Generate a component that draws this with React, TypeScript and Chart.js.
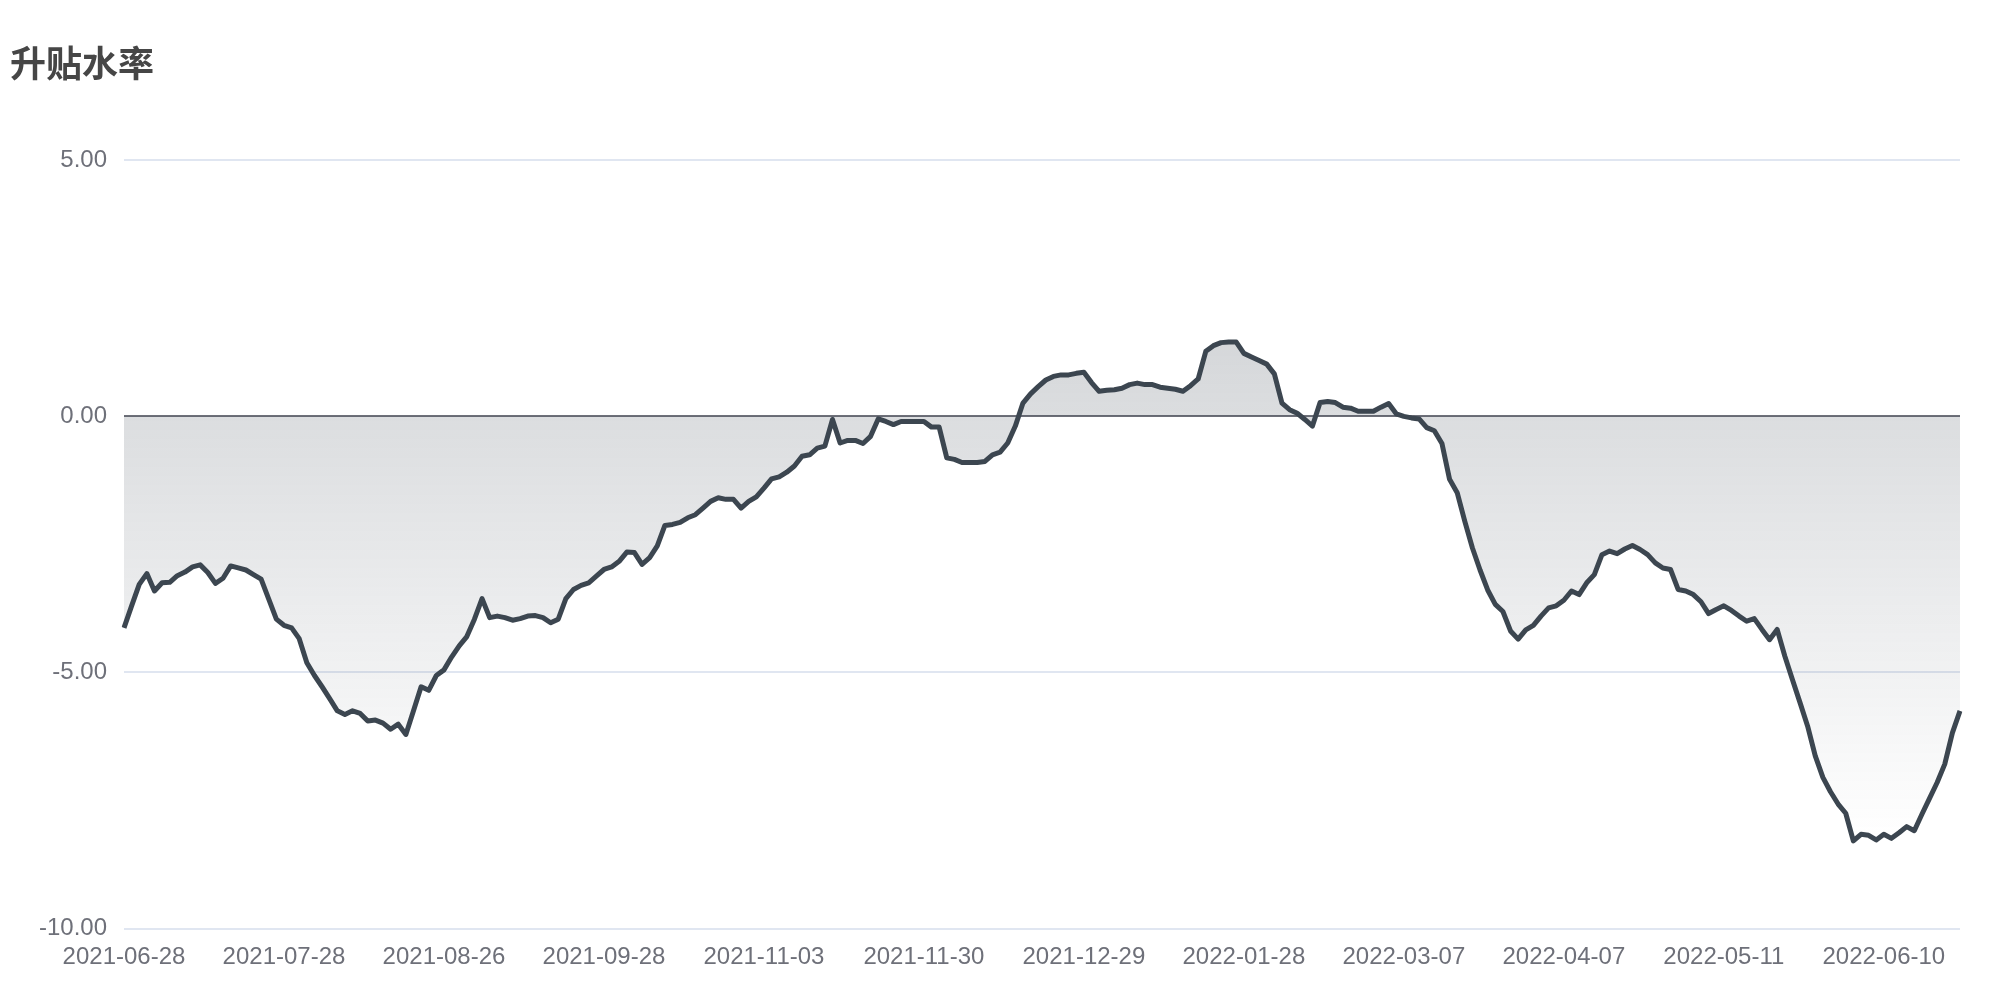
import React, { useEffect, useRef } from "react";
import { Chart, registerables } from "chart.js";

Chart.register(...registerables);

const chartTitle = "升贴水率";

const tickLabels = [
  "2021-06-28",
  "2021-07-28",
  "2021-08-26",
  "2021-09-28",
  "2021-11-03",
  "2021-11-30",
  "2021-12-29",
  "2022-01-28",
  "2022-03-07",
  "2022-04-07",
  "2022-05-11",
  "2022-06-10",
];
const tickStep = 21;

const values = [
  -4.13, -3.7, -3.28, -3.07, -3.41, -3.25, -3.24, -3.11, -3.04, -2.94,
  -2.9, -3.05, -3.26, -3.16, -2.92, -2.96, -3.0, -3.09, -3.18, -3.57,
  -3.96, -4.08, -4.13, -4.34, -4.81, -5.06, -5.28, -5.51, -5.75, -5.82,
  -5.75, -5.8, -5.95, -5.93, -5.99, -6.11, -6.01, -6.21, -5.75, -5.28,
  -5.35, -5.06, -4.95, -4.7, -4.48, -4.3, -3.96, -3.56, -3.93, -3.9,
  -3.93, -3.98, -3.95, -3.9, -3.89, -3.93, -4.03, -3.96, -3.56, -3.38,
  -3.3, -3.25, -3.12, -2.99, -2.94, -2.83, -2.65, -2.66, -2.89, -2.76,
  -2.53, -2.13, -2.11, -2.07, -1.98, -1.92, -1.79, -1.66, -1.59, -1.62,
  -1.62, -1.79, -1.66, -1.57, -1.4, -1.22, -1.18, -1.09, -0.97, -0.78,
  -0.75, -0.62, -0.58, -0.06, -0.52, -0.47, -0.47, -0.53, -0.39, -0.05,
  -0.1, -0.16, -0.1, -0.1, -0.1, -0.1, -0.21, -0.21, -0.81, -0.84,
  -0.9, -0.9, -0.9, -0.88, -0.75, -0.7, -0.52, -0.19, 0.26, 0.44,
  0.58, 0.71, 0.78, 0.81, 0.81, 0.84, 0.86, 0.66, 0.49, 0.51,
  0.52, 0.55, 0.62, 0.65, 0.62, 0.62, 0.57, 0.55, 0.53, 0.49,
  0.6, 0.73, 1.27, 1.38, 1.44, 1.45, 1.45, 1.23, 1.16, 1.09,
  1.02, 0.83, 0.26, 0.13, 0.06, -0.06, -0.19, 0.27, 0.29, 0.27,
  0.18, 0.16, 0.1, 0.1, 0.1, 0.18, 0.25, 0.05, 0.0, -0.03,
  -0.05, -0.22, -0.28, -0.53, -1.23, -1.49, -2.05, -2.57, -3.0, -3.39,
  -3.67, -3.81, -4.19, -4.35, -4.17, -4.08, -3.9, -3.74, -3.7, -3.59,
  -3.41, -3.48, -3.25, -3.09, -2.7, -2.63, -2.68, -2.59, -2.52, -2.6,
  -2.7, -2.86, -2.96, -2.99, -3.38, -3.41, -3.48, -3.62, -3.85, -3.77,
  -3.7, -3.79, -3.9, -4.0, -3.95, -4.16, -4.36, -4.16, -4.68, -5.14,
  -5.59, -6.05, -6.63, -7.05, -7.33, -7.57, -7.75, -8.29, -8.16, -8.18,
  -8.27, -8.16, -8.24, -8.13, -8.01, -8.09, -7.77, -7.46, -7.15, -6.79,
  -6.18, -5.75,
];

const categories = values.map((_, i) =>
  i % tickStep === 0 && i / tickStep < tickLabels.length ? tickLabels[i / tickStep] : ""
);

const yMin = -10;
const yMax = 5;
const yStep = 5;

const LINE_COLOR = "#3c4650";
const AXIS_TEXT = "#6E7079";
const LABEL_FONT = '"Liberation Sans", Arial, sans-serif';

export default function App() {
  const ref = useRef<HTMLCanvasElement>(null);

  useEffect(() => {
    const canvas = ref.current;
    if (!canvas) return;
    const maxV = Math.max(...values);
    const minV = Math.min(...values);
    const chart = new Chart(canvas, {
      type: "line",
      data: {
        labels: categories,
        datasets: [
          {
            data: values,
            borderColor: LINE_COLOR,
            borderWidth: 5,
            borderJoinStyle: "round",
            borderCapStyle: "butt",
            pointRadius: 0,
            pointHoverRadius: 0,
            tension: 0,
            fill: "origin",
            backgroundColor: (ctx: any) => {
              const c = ctx.chart;
              if (!c.chartArea) return "rgba(58,68,80,0.15)";
              const ys = c.scales.y;
              const top = ys.getPixelForValue(maxV);
              const bot = ys.getPixelForValue(minV);
              const g = c.ctx.createLinearGradient(0, top, 0, bot);
              g.addColorStop(0, "rgba(58,68,80,0.21)");
              g.addColorStop(1, "rgba(58,68,80,0)");
              return g;
            },
          },
        ],
      },
      options: {
        animation: false,
        responsive: false,
        maintainAspectRatio: false,
        devicePixelRatio: 1,
        layout: { padding: { left: 10, right: 40, top: 0, bottom: 0 } },
        plugins: {
          legend: { display: false },
          tooltip: { enabled: false },
          title: {
            display: true,
            text: chartTitle,
            align: "start",
            color: "#464646",
            font: { family: '"Noto Sans CJK SC", sans-serif', size: 36, weight: "bold", lineHeight: 1.2 },
            padding: { top: 41.4, bottom: 75.7 },
          },
        },
        scales: {
          x: {
            grid: { display: false },
            border: { display: false },
            ticks: {
              autoSkip: false,
              maxRotation: 0,
              minRotation: 0,
              padding: 6,
              color: AXIS_TEXT,
              font: { family: LABEL_FONT, size: 24 },
            },
            afterFit: (s: any) => {
              s.height = 71.5;
            },
          },
          y: {
            min: yMin,
            max: yMax,
            border: { display: false },
            grid: {
              drawTicks: false,
              lineWidth: 2,
              color: (ctx: any) => (ctx.tick && ctx.tick.value === 0 ? "#6E7079" : "#E0E6F1"),
            },
            ticks: {
              stepSize: yStep,
              padding: 17,
              color: AXIS_TEXT,
              font: { family: LABEL_FONT, size: 24 },
              callback: (v: any) => Number(v).toFixed(2),
            },
            afterFit: (s: any) => {
              s.width = 114;
            },
          },
        },
      },
    });
    return () => chart.destroy();
  }, []);

  return (
    <div style={{ position: "fixed", left: 0, top: 0, width: 2000, height: 1000, background: "#ffffff" }}>
      <canvas ref={ref} width={2000} height={1000} style={{ width: 2000, height: 1000, display: "block" }} />
    </div>
  );
}
